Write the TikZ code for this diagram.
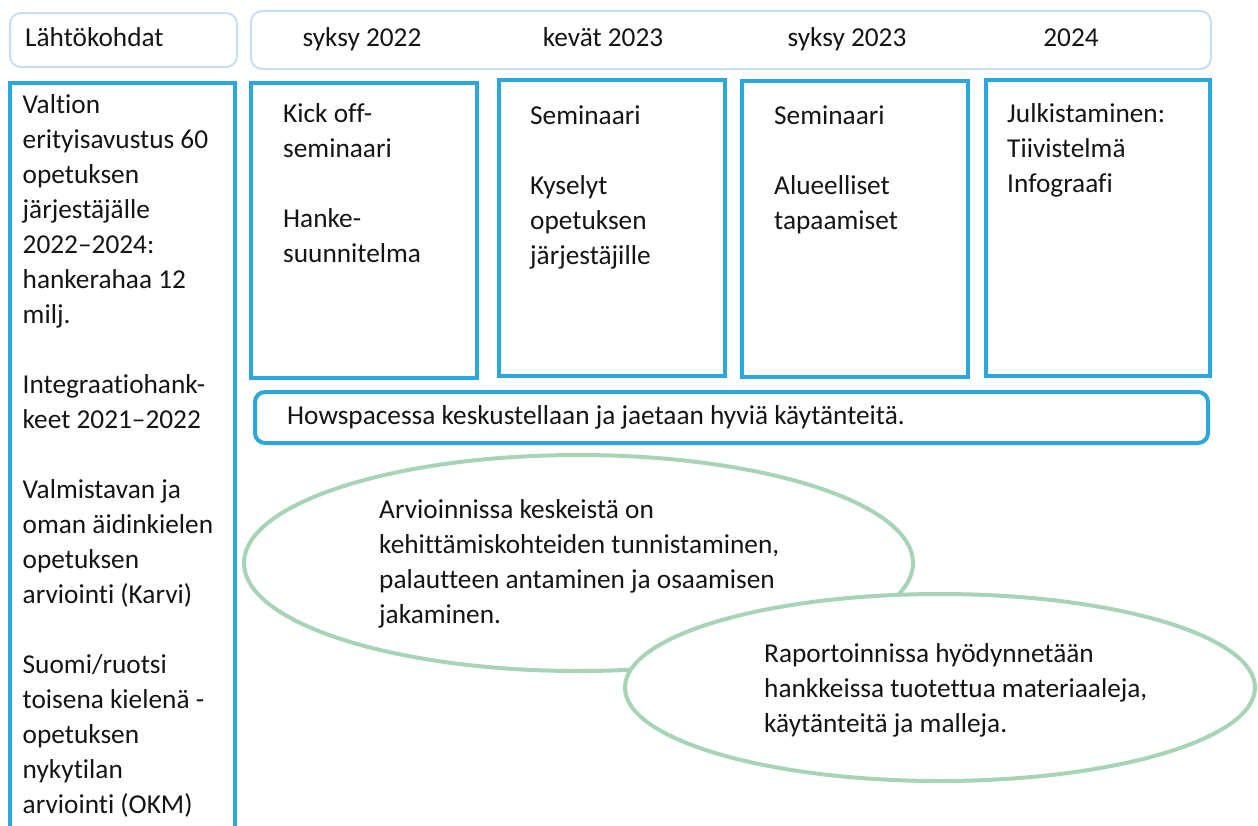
\documentclass[tikz,border=0pt]{standalone}
\usepackage{fontspec}
\setmainfont{Carlito}[Ligatures=NoCommon]
\usetikzlibrary{shapes.geometric}
\definecolor{boxblue}{HTML}{2CA7DD}
\definecolor{headblue}{HTML}{C8DCF2}
\definecolor{ellgreen}{HTML}{A7D4B4}
\definecolor{ink}{HTML}{151515}
\newcommand{\pbx}[2]{\parbox[t]{#1}{\raggedright #2}}
\tikzset{
  headbox/.style={draw=headblue, line width=2pt, rounded corners=11pt},
  bluebox/.style={draw=boxblue, line width=4pt},
  bluerbox/.style={draw=boxblue, line width=4pt, rounded corners=10pt},
  ellbox/.style={ellipse, draw=ellgreen, line width=4pt, fill=white, inner sep=0pt},
  txt/.style={anchor=base west, inner sep=0pt, text=ink, font=\fontsize{27.3}{35}\selectfont},
  ctxt/.style={anchor=base, inner sep=0pt, text=ink, font=\fontsize{27.3}{35}\selectfont},
}
\begin{document}
\begin{tikzpicture}[x=1pt,y=-1pt]
\clip (0,0) rectangle (1258,825);
\fill[white] (0,0) rectangle (1258,825);
% headers
\draw[headbox] (10,13) rectangle (237,67);
\draw[headbox] (251,11) rectangle (1211,69);
\node[txt] (h0) at (25,46) {Lähtökohdat};
\node[ctxt] (h1) at (362,46) {syksy 2022};
\node[ctxt] (h2) at (603,46) {kevät 2023};
\node[ctxt] (h3) at (847,46) {syksy 2023};
\node[ctxt] (h4) at (1071,46) {2024};
% left column
\draw[bluebox] (9.5,83) rectangle (235,850);
\node[txt] (left) at (22.5,113) {\pbx{215pt}{Valtion\\ erityisavustus 60\\ opetuksen\\ järjestäjälle\\ 2022–2024:\\ hankerahaa 12\\ milj.\\[35pt] Integraatiohank-\\ keet 2021–2022\\[35pt] Valmistavan ja\\ oman äidinkielen\\ opetuksen\\ arviointi (Karvi)\\[35pt] Suomi/ruotsi\\ toisena kielenä -\\ opetuksen\\ nykytilan\\ arviointi (OKM)}};
% timeline boxes
\draw[bluebox] (251,83) rectangle (477,378);
\draw[bluebox] (499,80) rectangle (725,376);
\draw[bluebox] (742,81) rectangle (968,377);
\draw[bluebox] (986,80) rectangle (1210,376);
\node[txt] (b1) at (283,122) {\pbx{190pt}{Kick off-\\ seminaari\\[35pt] Hanke-\\ suunnitelma}};
\node[txt] (b2) at (530,124) {\pbx{190pt}{Seminaari\\[35pt] Kyselyt\\ opetuksen\\ järjestäjille}};
\node[txt] (b3) at (774,124) {\pbx{190pt}{Seminaari\\[35pt] Alueelliset\\ tapaamiset}};
\node[txt] (b4) at (1007,122) {\pbx{195pt}{Julkistaminen:\\ Tiivistelmä\\ Infograafi}};
% Howspace bar
\draw[bluerbox] (255,392) rectangle (1208,443);
\node[txt] (hs) at (287,424) {Howspacessa keskustellaan ja jaetaan hyviä käytänteitä.};
% ellipses
\node[ellbox, minimum width=669pt, minimum height=216pt] (e1) at (578.5,563) {};
\node[ellbox, minimum width=630pt, minimum height=187pt] (e2) at (940,687.5) {};
\node[txt] (t1) at (379,518) {\pbx{480pt}{Arvioinnissa keskeistä on\\ kehittämiskohteiden tunnistaminen,\\ palautteen antaminen ja osaamisen\\ jakaminen.}};
\node[txt] (t2) at (764,662) {\pbx{420pt}{Raportoinnissa hyödynnetään\\ hankkeissa tuotettua materiaaleja,\\ käytänteitä ja malleja.}};
\end{tikzpicture}
\end{document}
